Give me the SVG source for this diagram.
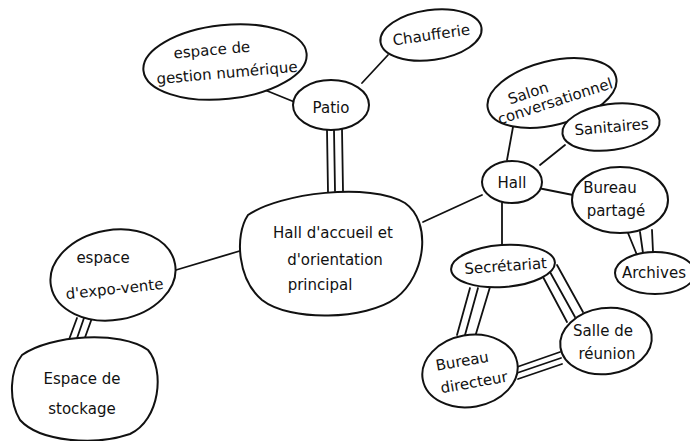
<svg xmlns="http://www.w3.org/2000/svg" width="690" height="441" viewBox="0 0 690 441">
<style>
.n{fill:#fff;stroke:#111;stroke-width:2}
.c line{stroke:#111;stroke-width:1.8;stroke-linecap:round}
text{font-family:"DejaVu Sans","Liberation Sans",sans-serif;font-size:15px;fill:#111;text-anchor:middle}
</style>
<rect width="690" height="441" fill="#fff"/>
<g class="c" id="connectors">
<line x1="260" y1="88" x2="297" y2="103"/>
<line x1="362" y1="83" x2="388" y2="55"/>
<line x1="327" y1="130" x2="328" y2="192"/>
<line x1="334" y1="130" x2="335" y2="191"/>
<line x1="342" y1="129" x2="343" y2="191"/>
<line x1="176" y1="270" x2="243" y2="250"/>
<line x1="67" y1="345" x2="77" y2="318"/>
<line x1="75" y1="344" x2="84" y2="318"/>
<line x1="83" y1="343" x2="92" y2="318"/>
<line x1="423" y1="222" x2="482" y2="195"/>
<line x1="513" y1="127" x2="507" y2="160"/>
<line x1="565" y1="145" x2="540" y2="165"/>
<line x1="538" y1="188" x2="573" y2="195"/>
<line x1="502" y1="203" x2="502" y2="247"/>
<line x1="628" y1="233" x2="637" y2="255"/>
<line x1="640" y1="232" x2="643" y2="253"/>
<line x1="652" y1="230" x2="653" y2="252"/>
<line x1="470" y1="288" x2="457" y2="335"/>
<line x1="478" y1="288" x2="465" y2="335"/>
<line x1="490" y1="287" x2="475" y2="337"/>
<line x1="543" y1="277" x2="567" y2="322"/>
<line x1="550" y1="272" x2="575" y2="317"/>
<line x1="557" y1="265" x2="583" y2="312"/>
<line x1="517" y1="367" x2="560" y2="352"/>
<line x1="517" y1="373" x2="561" y2="358"/>
<line x1="518" y1="379" x2="562" y2="364"/>
</g>
<g id="hall-principal">
<path class="n" d="M 248 215 C 280 193 370 182 405 203 C 432 222 426 275 396 298 C 366 320 290 322 262 300 C 238 280 234 236 248 215 Z"/>
<text x="333" y="238" font-size="17">Hall d'accueil et</text>
<text x="335" y="265" font-size="17">d'orientation</text>
<text x="320" y="290" font-size="17">principal</text>
</g>
<g id="patio">
<ellipse class="n" cx="331" cy="105" rx="38" ry="25"/>
<text x="331" y="113" font-size="22">Patio</text>
</g>
<g id="gestion">
<ellipse class="n" cx="225" cy="62" rx="82" ry="37" transform="rotate(-6 225 62)"/>
<g transform="rotate(-5 225 62)">
<text x="213" y="54" font-size="15">espace de</text>
<text x="226" y="78" font-size="14">gestion numérique</text>
</g>
</g>
<g id="chaufferie">
<ellipse class="n" cx="431" cy="35" rx="51" ry="25" transform="rotate(-8 431 35)"/>
<text x="432" y="40" font-size="15" transform="rotate(-8 432 40)">Chaufferie</text>
</g>
<g id="expo-vente">
<ellipse class="n" cx="113" cy="275" rx="63" ry="45" transform="rotate(-10 113 275)"/>
<text x="103" y="263" font-size="17">espace</text>
<text x="115" y="294" font-size="16" transform="rotate(-6 115 294)">d'expo-vente</text>
</g>
<g id="stockage">
<path class="n" d="M 22 355 C 50 335 120 330 148 350 C 165 370 160 420 130 434 C 95 446 40 442 20 420 C 8 400 10 370 22 355 Z"/>
<text x="82" y="384" font-size="19">Espace de</text>
<text x="82" y="414" font-size="19">stockage</text>
</g>
<g id="hall">
<ellipse class="n" cx="512" cy="182" rx="30" ry="21"/>
<text x="512" y="188" font-size="17">Hall</text>
</g>
<g id="salon">
<ellipse class="n" cx="552" cy="93" rx="66" ry="32" transform="rotate(-14 552 93)"/>
<g transform="rotate(-18 552 95)">
<text x="530" y="91" font-size="14">Salon</text>
<text x="553" y="107" font-size="13">conversationnel</text>
</g>
</g>
<g id="sanitaires">
<ellipse class="n" cx="611" cy="127" rx="49" ry="23" transform="rotate(-8 611 127)"/>
<text x="612" y="132" font-size="15" transform="rotate(-5 612 132)">Sanitaires</text>
</g>
<g id="bureau-partage">
<ellipse class="n" cx="620" cy="200" rx="48" ry="33"/>
<text x="610" y="193" font-size="16">Bureau</text>
<text x="616" y="216" font-size="16">partagé</text>
</g>
<g id="archives">
<ellipse class="n" cx="655" cy="273" rx="40" ry="21"/>
<text x="654" y="278" font-size="14">Archives</text>
</g>
<g id="secretariat">
<ellipse class="n" cx="503" cy="266" rx="52" ry="21" transform="rotate(-4 503 266)"/>
<text x="506" y="271" font-size="16" transform="rotate(-4 506 271)">Secrétariat</text>
</g>
<g id="salle-reunion">
<ellipse class="n" cx="606" cy="341" rx="46" ry="33" transform="rotate(-8 606 341)"/>
<text x="603" y="336" font-size="16">Salle de</text>
<text x="607" y="359" font-size="16">réunion</text>
</g>
<g id="bureau-directeur">
<ellipse class="n" cx="470" cy="371" rx="48" ry="36" transform="rotate(-10 470 371)"/>
<g transform="rotate(-10 470 371)">
<text x="464" y="365" font-size="16">Bureau</text>
<text x="472" y="388" font-size="15">directeur</text>
</g>
</g>
</svg>
